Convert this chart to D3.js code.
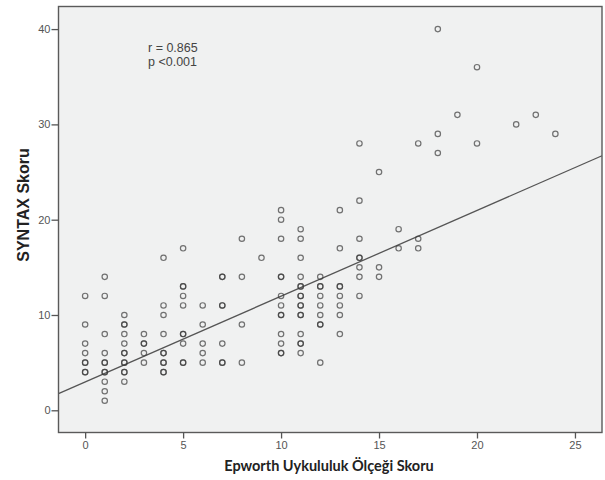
<!DOCTYPE html>
<html>
<head>
<meta charset="utf-8">
<script src="https://cdn.jsdelivr.net/npm/d3@7"></script>
<style>
  body { margin: 0; background: #fff; }
  svg { display: block; }
</style>
</head>
<body>
<div id="chart"></div>
<script>
// Epworth score (x) and SYNTAX score (y), one line per Epworth value.
const epworth = [
  0, 0, 0, 0, 0, 0, 0, 0,
  1, 1, 1, 1, 1, 1, 1, 1, 1, 1, 1,
  2, 2, 2, 2, 2, 2, 2, 2, 2, 2, 2, 2,
  3, 3, 3, 3, 3,
  4, 4, 4, 4, 4, 4, 4, 4, 4, 4,
  5, 5, 5, 5, 5, 5, 5, 5, 5, 5,
  6, 6, 6, 6, 6,
  7, 7, 7, 7, 7, 7, 7,
  8, 8, 8, 8,
  9,
  10, 10, 10, 10, 10, 10, 10, 10, 10, 10, 10, 10, 10,
  11, 11, 11, 11, 11, 11, 11, 11, 11, 11, 11, 11, 11, 11, 11, 11,
  12, 12, 12, 12, 12, 12, 12, 12, 12,
  13, 13, 13, 13, 13, 13, 13, 13,
  14, 14, 14, 14, 14, 14, 14, 14,
  15, 15, 15,
  16, 16,
  17, 17, 17,
  18, 18, 18,
  19,
  20, 20,
  22,
  23,
  24
];
const syntax = [
  12, 9, 7, 6, 5, 5, 4, 4,
  14, 12, 8, 6, 5, 5, 4, 4, 3, 2, 1,
  10, 9, 9, 8, 7, 6, 6, 5, 5, 4, 4, 3,
  8, 7, 7, 6, 5,
  16, 11, 10, 8, 6, 6, 5, 5, 4, 4,
  17, 13, 13, 12, 11, 8, 8, 7, 5, 5,
  11, 9, 7, 6, 5,
  14, 14, 11, 11, 7, 5, 5,
  18, 14, 9, 5,
  16,
  21, 20, 18, 14, 14, 12, 11, 10, 10, 8, 7, 6, 6,
  19, 18, 16, 14, 13, 13, 12, 12, 11, 11, 10, 10, 8, 7, 7, 6,
  14, 13, 13, 12, 11, 10, 9, 9, 5,
  21, 17, 13, 13, 12, 11, 10, 8,
  28, 22, 18, 16, 16, 15, 14, 12,
  25, 15, 14,
  19, 17,
  28, 18, 17,
  40, 29, 27,
  31,
  36, 28,
  30,
  31,
  29
];

// Tick labels on both axes.
const xTicks = [0, 5, 10, 15, 20, 25];
const yTicks = [0, 10, 20, 30, 40];

const fitIntercept = 2.97;
const fitSlope = 0.90;
const statLines = ["r = 0.865", "p <0.001"];

const xTitle = "Epworth Uykululuk Ölçeği Skoru";
const yTitle = "SYNTAX Skoru";

const w = 605, h = 480;
const plot = { left: 58.5, right: 602, top: 6.5, bottom: 432.5 };

const svg = d3.select("#chart")
    .append("svg")
    .attr("width", w)
    .attr("height", h);

const xScale = d3.scaleLinear()
    .domain([-1.36, 26.38])
    .range([plot.left, plot.right]);

const yScale = d3.scaleLinear()
    .domain([-2.33, 42.37])
    .range([plot.bottom, plot.top]);

// Plot background.
svg.append("rect")
    .attr("x", plot.left)
    .attr("y", plot.top)
    .attr("width", plot.right - plot.left)
    .attr("height", plot.bottom - plot.top)
    .attr("fill", "#f0f1f1");

// Fit line across the whole plot area.
const [x0, x1] = xScale.domain();
svg.append("line")
    .attr("x1", xScale(x0))
    .attr("y1", yScale(fitIntercept + fitSlope * x0))
    .attr("x2", xScale(x1))
    .attr("y2", yScale(fitIntercept + fitSlope * x1))
    .attr("stroke", "#555")
    .attr("stroke-width", 1.3);

// Points. Stacked duplicates come out darker, as in the original.
svg.append("g")
    .selectAll("circle")
    .data(epworth.map((x, i) => [x, syntax[i]]))
    .join("circle")
    .attr("cx", d => xScale(d[0]))
    .attr("cy", d => yScale(d[1]))
    .attr("r", 2.7)
    .attr("fill", "none")
    .attr("stroke", "#3a3a3a")
    .attr("stroke-opacity", 0.7)
    .attr("stroke-width", 1.2);

// Plot frame.
svg.append("rect")
    .attr("x", plot.left)
    .attr("y", plot.top)
    .attr("width", plot.right - plot.left)
    .attr("height", plot.bottom - plot.top)
    .attr("fill", "none")
    .attr("stroke", "#5a5a5a")
    .attr("stroke-width", 1.4);

// Axes.
const xAxis = svg.append("g")
    .attr("transform", `translate(0,${plot.bottom})`)
    .call(d3.axisBottom(xScale).tickValues(xTicks).tickSize(6).tickPadding(3));

const yAxis = svg.append("g")
    .attr("transform", `translate(${plot.left},0)`)
    .call(d3.axisLeft(yScale).tickValues(yTicks).tickSize(7).tickPadding(1));

[xAxis, yAxis].forEach(g => {
    g.select(".domain").remove();
    g.selectAll(".tick line").attr("stroke", "#555").attr("stroke-width", 1.3);
    g.selectAll(".tick text")
        .attr("fill", "#555")
        .attr("font-family", "Liberation Sans, Arial, sans-serif")
        .attr("font-size", 11);
});

// Statistics text.
svg.append("g")
    .selectAll("text")
    .data(statLines)
    .join("text")
    .attr("x", 148)
    .attr("y", (d, i) => 52 + i * 14)
    .attr("fill", "#444")
    .attr("font-family", "Liberation Sans, Arial, sans-serif")
    .attr("font-size", 12.5)
    .text(d => d);

// Axis titles.
svg.append("text")
    .attr("x", 329)
    .attr("y", 471)
    .attr("text-anchor", "middle")
    .attr("fill", "#222")
    .attr("font-family", "Lato, sans-serif")
    .attr("font-weight", "bold")
    .attr("font-size", 14.5)
    .text(xTitle);

svg.append("text")
    .attr("transform", "translate(29,205) rotate(-90)")
    .attr("text-anchor", "middle")
    .attr("fill", "#222")
    .attr("font-family", "Liberation Sans, Arial, sans-serif")
    .attr("font-weight", "bold")
    .attr("font-size", 16)
    .text(yTitle);
</script>
</body>
</html>
